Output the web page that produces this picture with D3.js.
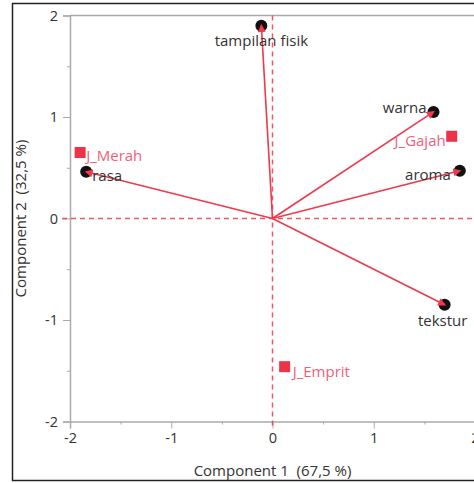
<!DOCTYPE html>
<html>
<head>
<meta charset="utf-8">
<script src="https://cdn.jsdelivr.net/npm/d3@7"></script>
<style>
  body { margin: 0; background: #fff; }
  svg { display: block; }
  text { white-space: pre; }
</style>
</head>
<body>
<svg width="474" height="483"></svg>
<script>
const width = 474, height = 483;

// loadings (variables)
const varNames = ["tampilan fisik", "warna", "aroma", "tekstur", "rasa"];
const varX = [-0.11, 1.59, 1.85, 1.70, -1.84];
const varY = [1.90, 1.05, 0.47, -0.85, 0.46];

// scores (samples)
const obsNames = ["J_Merah", "J_Gajah", "J_Emprit"];
const obsX = [-1.90, 1.77, 0.12];
const obsY = [0.65, 0.81, -1.46];

const xTicks = [-2, -1, 0, 1, 2];
const yTicks = [-2, -1, 0, 1, 2];
const xTitle = "Component 1  (67,5 %)";
const yTitle = "Component 2  (32,5 %)";

const red = "#ee3a4c", pink = "#f0607a", ink = "#333";

const x = d3.scaleLinear().domain([-2, 2]).range([70, 475]);
const y = d3.scaleLinear().domain([-2, 2]).range([421.5, 15.5]);

const svg = d3.select("svg")
  .attr("font-family", "'Open Sans', sans-serif");

// outer frame
svg.append("line").attr("x1", 12).attr("x2", width).attr("y1", 3.5).attr("y2", 3.5)
  .attr("stroke", "#222").attr("stroke-width", 1.5);
svg.append("line").attr("x1", 12.5).attr("x2", 12.5).attr("y1", 3).attr("y2", 481)
  .attr("stroke", "#222").attr("stroke-width", 1.5);
svg.append("line").attr("x1", 12).attr("x2", width).attr("y1", 480.5).attr("y2", 480.5)
  .attr("stroke", "#222").attr("stroke-width", 1.5);

// axes
const gx = svg.append("g").attr("transform", `translate(0,${y(-2)})`)
  .call(d3.axisBottom(x).tickValues(d3.range(-2, 2.01, 0.5)).tickSize(7).tickPadding(4)
    .tickFormat(d => xTicks.includes(d) ? String(d) : ""));
const gy = svg.append("g").attr("transform", `translate(${x(-2)},0)`)
  .call(d3.axisLeft(y).tickValues(d3.range(-2, 2.01, 0.5)).tickSize(7).tickPadding(5)
    .tickFormat(d => yTicks.includes(d) ? String(d) : ""));
[gx, gy].forEach(g => {
  g.select(".domain").attr("stroke", "#aaa").attr("stroke-width", 1.5);
  g.selectAll(".tick line").attr("stroke", "#aaa");
  g.selectAll(".tick text").attr("fill", ink).attr("font-size", 14.5)
    .attr("font-family", "'Open Sans', sans-serif");
});
gx.selectAll(".tick").filter(d => !Number.isInteger(d)).select("line").attr("y2", 3);
gy.selectAll(".tick").filter(d => !Number.isInteger(d)).select("line").attr("x2", -3);
// top frame of the plot
svg.append("line").attr("x1", x(-2)).attr("x2", width).attr("y1", y(2)).attr("y2", y(2))
  .attr("stroke", "#aaa").attr("stroke-width", 1.5);

// zero lines
svg.append("line").attr("x1", x(-2) - 8).attr("x2", width).attr("y1", y(0)).attr("y2", y(0))
  .attr("stroke", red).attr("stroke-width", 1.5).attr("stroke-dasharray", "5,4").attr("opacity", 0.85);
svg.append("line").attr("x1", x(0)).attr("x2", x(0)).attr("y1", y(2)).attr("y2", y(-2) + 8)
  .attr("stroke", red).attr("stroke-width", 1.5).attr("stroke-dasharray", "5,4").attr("opacity", 0.85);

// axis titles
svg.append("text").attr("x", x(0)).attr("y", 476).attr("text-anchor", "middle")
  .attr("font-size", 15).attr("fill", ink).text(xTitle);
svg.append("text").attr("transform", `translate(26,${y(0)}) rotate(-90)`)
  .attr("text-anchor", "middle").attr("font-size", 15).attr("fill", ink).text(yTitle);

// variables: circles, vectors, labels
const vars = varNames.map((n, i) => ({ name: n, x: varX[i], y: varY[i] }));
svg.append("defs").append("marker").attr("id", "arrow")
  .attr("viewBox", "0 0 10 10").attr("refX", 8).attr("refY", 5)
  .attr("markerWidth", 9).attr("markerHeight", 8).attr("markerUnits", "userSpaceOnUse")
  .attr("orient", "auto")
  .append("path").attr("d", "M0,0L10,5L0,10Z").attr("fill", red);

svg.append("g").selectAll("circle").data(vars).join("circle")
  .attr("cx", d => x(d.x)).attr("cy", d => y(d.y)).attr("r", 6).attr("fill", "#111");
svg.append("g").selectAll("line").data(vars).join("line")
  .attr("x1", x(0)).attr("y1", y(0)).attr("x2", d => x(d.x)).attr("y2", d => y(d.y))
  .attr("stroke", red).attr("stroke-width", 1.6).attr("marker-end", "url(#arrow)");

const varLabel = {
  "tampilan fisik": { dx: 0, dy: 20, anchor: "middle" },
  "warna": { dx: -7, dy: 1, anchor: "end" },
  "aroma": { dx: -9, dy: 9, anchor: "end" },
  "tekstur": { dx: -2, dy: 21, anchor: "middle" },
  "rasa": { dx: 6, dy: 9, anchor: "start" }
};
svg.append("g").selectAll("text").data(vars).join("text")
  .attr("x", d => x(d.x) + varLabel[d.name].dx).attr("y", d => y(d.y) + varLabel[d.name].dy)
  .attr("text-anchor", d => varLabel[d.name].anchor)
  .attr("font-size", 15).attr("fill", ink).text(d => d.name);

// observations: red squares with labels
const obs = obsNames.map((n, i) => ({ name: n, x: obsX[i], y: obsY[i] }));
const obsLabel = {
  "J_Merah": { dx: 6, dy: 8, anchor: "start" },
  "J_Gajah": { dx: -6, dy: 10, anchor: "end" },
  "J_Emprit": { dx: 8, dy: 10, anchor: "start" }
};
svg.append("g").selectAll("rect").data(obs).join("rect")
  .attr("x", d => x(d.x) - 5.5).attr("y", d => y(d.y) - 5.5)
  .attr("width", 11).attr("height", 11).attr("fill", "#ec3347");
svg.append("g").selectAll("text").data(obs).join("text")
  .attr("x", d => x(d.x) + obsLabel[d.name].dx).attr("y", d => y(d.y) + obsLabel[d.name].dy)
  .attr("text-anchor", d => obsLabel[d.name].anchor)
  .attr("font-size", 15).attr("fill", pink).text(d => d.name);
</script>
</body>
</html>
